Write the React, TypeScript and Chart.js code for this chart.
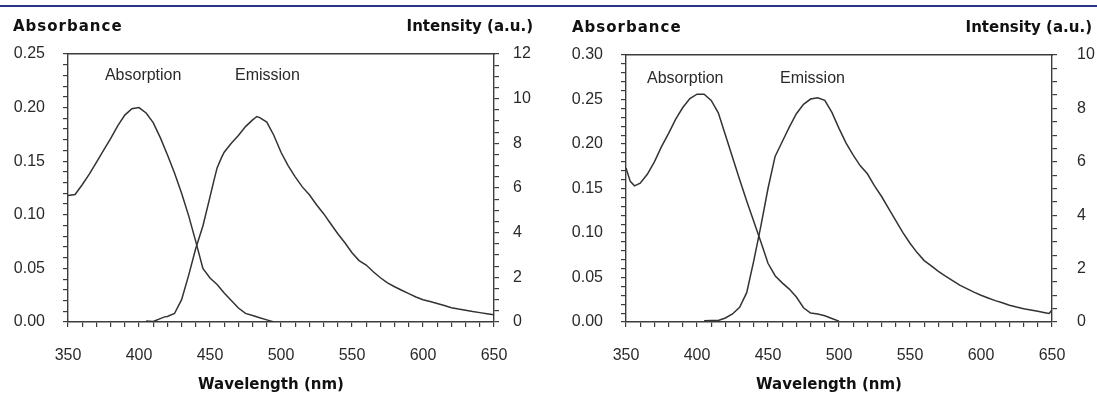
import React, { useEffect, useRef } from "react";
import { Chart, registerables } from "chart.js";

Chart.register(...registerables);

// ---------- Data (left panel) ----------
const leftAbsWavelengths = [350, 355, 360, 365, 370, 375, 380, 385, 390, 395, 400, 405, 410, 415, 420, 425, 430, 435, 440, 445, 450, 455, 460, 465, 470, 475, 480, 485, 490, 495];
const leftAbsorbance = [0.118, 0.119, 0.128, 0.138, 0.149, 0.16, 0.171, 0.183, 0.193, 0.199, 0.2, 0.195, 0.186, 0.172, 0.156, 0.139, 0.12, 0.099, 0.075, 0.05, 0.041, 0.035, 0.027, 0.02, 0.013, 0.008, 0.006, 0.004, 0.002, 0.0];

const leftEmWavelengths = [405, 410, 415, 418, 420, 425, 430, 435, 440, 445, 450, 453, 455, 458, 460, 465, 470, 475, 480, 483, 485, 490, 495, 500, 505, 510, 515, 520, 525, 530, 535, 540, 545, 550, 555, 560, 565, 570, 575, 580, 585, 590, 595, 600, 605, 610, 615, 620, 625, 630, 635, 640, 645, 650];
const leftIntensity = [0.05, 0.02, 0.15, 0.23, 0.25, 0.38, 1.0, 2.1, 3.3, 4.3, 5.6, 6.4, 6.9, 7.35, 7.6, 8.0, 8.35, 8.75, 9.05, 9.2, 9.15, 8.95, 8.35, 7.6, 7.0, 6.5, 6.05, 5.7, 5.25, 4.85, 4.4, 3.95, 3.55, 3.1, 2.75, 2.55, 2.25, 1.98, 1.75, 1.58, 1.42, 1.27, 1.12, 1.0, 0.92, 0.83, 0.74, 0.64, 0.58, 0.53, 0.47, 0.42, 0.37, 0.32];

// ---------- Data (right panel) ----------
const rightAbsWavelengths = [350, 353, 356, 360, 365, 370, 375, 380, 385, 390, 395, 400, 405, 410, 415, 420, 425, 430, 435, 440, 445, 450, 455, 460, 465, 470, 475, 480, 485, 490, 495, 500];
const rightAbsorbance = [0.173, 0.158, 0.153, 0.156, 0.166, 0.18, 0.197, 0.212, 0.228, 0.241, 0.251, 0.256, 0.256, 0.249, 0.235, 0.21, 0.185, 0.16, 0.136, 0.113, 0.09, 0.066, 0.052, 0.044, 0.037, 0.028, 0.016, 0.01, 0.009, 0.007, 0.004, 0.001];

const rightEmWavelengths = [405, 410, 415, 420, 425, 430, 435, 440, 445, 450, 455, 460, 465, 470, 475, 480, 485, 490, 495, 500, 505, 510, 515, 520, 525, 530, 535, 540, 545, 550, 555, 560, 565, 570, 575, 580, 585, 590, 595, 600, 605, 610, 615, 620, 625, 630, 635, 640, 645, 648, 650];
const rightIntensity = [0.05, 0.06, 0.06, 0.15, 0.3, 0.55, 1.1, 2.3, 3.6, 5.0, 6.2, 6.75, 7.3, 7.8, 8.15, 8.35, 8.4, 8.3, 7.85, 7.25, 6.7, 6.25, 5.85, 5.55, 5.1, 4.7, 4.25, 3.8, 3.35, 2.95, 2.6, 2.3, 2.1, 1.9, 1.72, 1.55, 1.38, 1.25, 1.12, 1.0, 0.9, 0.8, 0.72, 0.63, 0.56, 0.5, 0.45, 0.4, 0.35, 0.32, 0.45];

// ---------- Axis ranges / labels ----------
const xRange = [350, 650];
const xMajorStep = 50;
const xMinorStep = 10;
const leftAbsRange = [0, 0.25];
const rightAbsRange = [0, 0.3];
const absMajorStep = 0.05;
const absMinorStep = 0.01;
const leftIntRange = [0, 12];
const rightIntRange = [0, 10];
const intMajorStep = 2;
const intMinorStep = 0.5;

const titleLeft = "Absorbance";
const titleRight = "Intensity (a.u.)";
const titleX = "Wavelength (nm)";
const noteAbs = "Absorption";
const noteEm = "Emission";

const INK = "#333333";
const AXIS = "#3c3c3c";
const TICK_TEXT = "#2a2a2a";

const isMultiple = (v: number, step: number) => Math.abs(v / step - Math.round(v / step)) < 1e-6;

const textPlugin = {
  id: "panelText",
  afterDraw(chart: any, _args: any, opts: any) {
    const { ctx, scales } = chart;
    ctx.save();
    ctx.fillStyle = "#111";
    ctx.font = 'bold 15px "DejaVu Sans", sans-serif';
    ctx.textBaseline = "alphabetic";
    (ctx as any).letterSpacing = "1px";
    ctx.textAlign = "left";
    ctx.fillText(titleLeft, opts.leftTitleX, opts.titleY);
    (ctx as any).letterSpacing = "0px";
    ctx.textAlign = "right";
    ctx.fillText(titleRight, opts.rightTitleX, opts.titleY);
    ctx.textAlign = "center";
    ctx.fillText(titleX, opts.xTitleX, opts.xTitleY);

    ctx.font = '16px "Liberation Sans", Arial, sans-serif';
    ctx.fillStyle = TICK_TEXT;
    ctx.textAlign = "left";
    for (const n of opts.notes) {
      ctx.fillText(n.text, scales.x.getPixelForValue(n.x), scales.y.getPixelForValue(n.y));
    }
    ctx.restore();
  },
};

type PanelProps = {
  left: number;
  width: number;
  area: { left: number; right: number; top: number; bottom: number };
  absX: number[];
  absY: number[];
  emX: number[];
  emY: number[];
  absRange: number[];
  intRange: number[];
  rightPad: number;
  text: any;
};

function Panel(p: PanelProps) {
  const ref = useRef<HTMLCanvasElement | null>(null);
  useEffect(() => {
    const canvas = ref.current!;
    const H = 395;
    const tickGrid = {
      display: true,
      drawOnChartArea: false,
      drawTicks: true,
      tickLength: 5,
      tickColor: AXIS,
      color: AXIS,
      lineWidth: 1.2,
    };
    const border = { display: true, color: AXIS, width: 1.4 };
    const tickFont = { family: '"Liberation Sans", Arial, sans-serif', size: 16 };
    const chart = new Chart(canvas, {
      type: "line",
      data: {
        datasets: [
          {
            label: noteAbs,
            data: p.absX.map((x, i) => ({ x, y: p.absY[i] })),
            borderColor: INK,
            borderWidth: 1.5,
            pointRadius: 0,
            tension: 0,
            yAxisID: "y",
          },
          {
            label: noteEm,
            data: p.emX.map((x, i) => ({ x, y: p.emY[i] })),
            borderColor: INK,
            borderWidth: 1.5,
            pointRadius: 0,
            tension: 0,
            yAxisID: "y1",
          },
        ],
      },
      options: {
        animation: false,
        responsive: false,
        events: [],
        layout: { padding: 0 },
        plugins: {
          legend: { display: false },
          tooltip: { enabled: false },
          title: { display: false },
          panelText: p.text,
        } as any,
        scales: {
          x: {
            type: "linear",
            position: "bottom",
            min: xRange[0],
            max: xRange[1],
            grid: tickGrid,
            border,
            ticks: {
              stepSize: xMinorStep,
              autoSkip: false,
              maxRotation: 0,
              padding: 19,
              color: TICK_TEXT,
              font: tickFont,
              callback: (v: any) => (isMultiple(Number(v), xMajorStep) ? String(v) : ""),
            },
            afterFit: (s: any) => {
              s.height = H - p.area.bottom;
            },
          },
          x2: {
            type: "linear",
            position: "top",
            min: 0,
            max: 1,
            grid: { display: false },
            border,
            ticks: { display: false },
            afterFit: (s: any) => {
              s.height = p.area.top;
            },
          },
          y: {
            type: "linear",
            position: "left",
            min: p.absRange[0],
            max: p.absRange[1],
            grid: tickGrid,
            border,
            ticks: {
              stepSize: absMinorStep,
              autoSkip: false,
              padding: 18,
              color: TICK_TEXT,
              font: tickFont,
              callback: (v: any) => (isMultiple(Number(v), absMajorStep) ? Number(v).toFixed(2) : ""),
            },
            afterFit: (s: any) => {
              s.width = p.area.left;
            },
          },
          y1: {
            type: "linear",
            position: "right",
            min: p.intRange[0],
            max: p.intRange[1],
            grid: tickGrid,
            border,
            ticks: {
              stepSize: intMinorStep,
              autoSkip: false,
              padding: p.rightPad,
              color: TICK_TEXT,
              font: tickFont,
              callback: (v: any) => (isMultiple(Number(v), intMajorStep) ? String(Math.round(Number(v))) : ""),
            },
            afterFit: (s: any) => {
              s.width = p.width - p.area.right;
            },
          },
        },
      } as any,
      plugins: [textPlugin],
    });
    return () => chart.destroy();
  }, []);
  return (
    <canvas
      ref={ref}
      width={p.width}
      height={395}
      style={{ position: "absolute", left: p.left, top: 0, width: p.width, height: 395 }}
    />
  );
}

export default function App() {
  return (
    <div style={{ position: "fixed", left: 0, top: 0, width: 1097, height: 395, background: "#fff", overflow: "hidden" }}>
      <div style={{ position: "absolute", left: 0, top: 5, width: 1097, height: 2, background: "#2b3586" }} />
      <Panel
        left={0}
        width={548}
        area={{ left: 68, right: 494, top: 54, bottom: 322 }}
        absX={leftAbsWavelengths}
        absY={leftAbsorbance}
        emX={leftEmWavelengths}
        emY={leftIntensity}
        absRange={leftAbsRange}
        intRange={leftIntRange}
        rightPad={14}
        text={{
          leftTitleX: 13,
          rightTitleX: 533,
          titleY: 31,
          xTitleX: 271,
          xTitleY: 389,
          notes: [
            { text: noteAbs, x: 376, y: 0.2257 },
            { text: noteEm, x: 467.6, y: 0.2257 },
          ],
        }}
      />
      <Panel
        left={548}
        width={549}
        area={{ left: 78, right: 504, top: 55, bottom: 322 }}
        absX={rightAbsWavelengths}
        absY={rightAbsorbance}
        emX={rightEmWavelengths}
        emY={rightIntensity}
        absRange={rightAbsRange}
        intRange={rightIntRange}
        rightPad={20}
        text={{
          leftTitleX: 24,
          rightTitleX: 544,
          titleY: 32,
          xTitleX: 281,
          xTitleY: 389,
          notes: [
            { text: noteAbs, x: 364.8, y: 0.2685 },
            { text: noteEm, x: 458.5, y: 0.2685 },
          ],
        }}
      />
    </div>
  );
}
